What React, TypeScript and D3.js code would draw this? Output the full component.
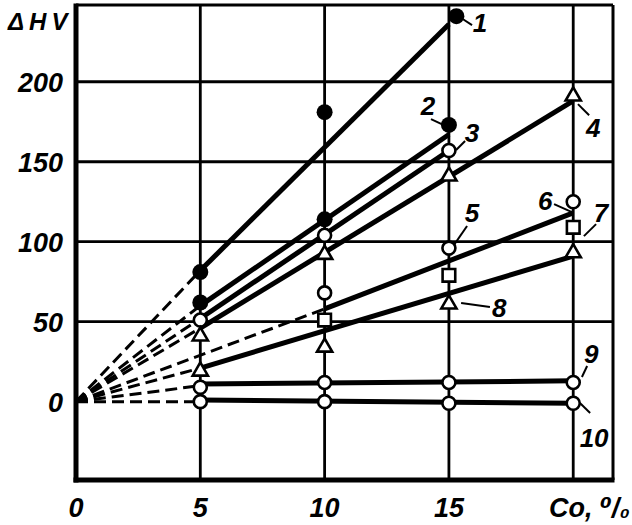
import React from 'react';
import * as d3 from 'd3';

// ---- data ----
const xTickValues = [0, 5, 10, 15];
const yTickValues = [0, 50, 100, 150, 200];
const gridX = [5, 10, 15, 20];
const gridY = [50, 100, 150, 200];

const seriesIds = ['1', '2', '3', '4', '5', '7', '8', '9', '10'];
const markerKinds = ['filled', 'filled', 'circle', 'triangle', 'circle', 'square', 'triangle', 'circle', 'circle'];
const seriesX = [
  [5, 10, 15.3],
  [5, 10, 15],
  [5, 10, 15],
  [5, 10, 15, 20],
  [10, 15, 20],
  [10, 15, 20],
  [5, 10, 15, 20],
  [5, 10, 15, 20],
  [5, 10, 15, 20],
];
const seriesY = [
  [81, 181, 241],
  [62, 114, 173],
  [51, 104, 157],
  [41, 92, 141, 191],
  [68, 96, 125],
  [51, 79, 109],
  [19, 34, 61, 93],
  [9, 12, 12, 12],
  [0, 0, -1, -1],
];

// fitted lines: dashed from origin to (x0,y0), solid from (x0,y0) to (x1,y1)
const fitX0 = [5, 5, 5, 5, 10, 5, 5, 5];
const fitY0 = [82, 60, 52, 46, 58, 21, 11, 1];
const fitX1 = [15, 15, 15, 20, 20, 20, 20, 20];
const fitY1 = [236, 167, 157, 188, 118, 91, 13, -1];
const fitDashY = [82, 60, 52, 46, 58, 21, 10, 0];

// curve number labels (data units)
const labelText = ['1', '2', '3', '4', '5', '6', '7', '8', '9', '10'];
const labelX = [16.25, 14.16, 15.93, 20.8, 15.93, 18.87, 21.12, 17.02, 20.72, 20.84];
const labelY = [231, 179.1, 162.3, 165.4, 112.3, 119.8, 112.3, 52.9, 24.1, -28.5];
const leaderX1 = [15.57, 14.28, 15.65, 20.64, 15.73, 19.23, 20.92, 16.65, 20.56, 20.68];
const leaderY1 = [239.1, 176.6, 163, 179.1, 109.8, 123.5, 111, 59.1, 22.3, -7.1];
const leaderX2 = [15.93, 14.88, 15.29, 20.19, 15.2, 19.95, 20.43, 15.49, 20.35, 20.27];
const leaderY2 = [235.4, 172.3, 157.3, 186, 97.9, 118.5, 103.5, 61.6, 15.4, -0.9];

const FONT = "'Liberation Sans', Arial, 'DejaVu Sans', sans-serif";

export default function App() {
  const W = 632, H = 525;
  const x = d3.scaleLinear().domain([0, 21.6]).range([76, 613]);
  const y = d3.scaleLinear().domain([-49, 248]).range([480, 5]);
  const tri = d3.symbol().type(d3.symbolTriangle).size(100)();
  const sq = d3.symbol().type(d3.symbolSquare).size(160)();
  const [xd0, xd1] = x.domain();
  const [yd0, yd1] = y.domain();

  const textStyle: React.CSSProperties = {
    fontFamily: FONT,
    fontWeight: 'bold',
    fontStyle: 'italic',
  };

  return (
    <svg width={W} height={H} style={{ position: 'absolute', left: 0, top: 0, background: '#fff' }}>
      <rect x={0} y={0} width={W} height={H} fill="#fff" />
      {/* grid */}
      {gridX.map((v) => (
        <line key={'gx' + v} x1={x(v)} x2={x(v)} y1={y(yd0)} y2={y(yd1)} stroke="#000" strokeWidth={2.8} />
      ))}
      {gridY.map((v) => (
        <line key={'gy' + v} x1={x(xd0)} x2={x(xd1)} y1={y(v)} y2={y(v)} stroke="#000" strokeWidth={2.8} />
      ))}
      {/* frame */}
      <line x1={x(xd0)} x2={x(xd1)} y1={y(yd1)} y2={y(yd1)} stroke="#000" strokeWidth={3} />
      <line x1={x(xd1)} x2={x(xd1)} y1={y(yd1)} y2={y(yd0)} stroke="#000" strokeWidth={3} />
      <line x1={x(xd0)} x2={x(xd0)} y1={y(yd1) - 1.5} y2={y(yd0) + 2.5} stroke="#000" strokeWidth={5} />
      <line x1={x(xd0) - 2.5} x2={x(xd1) + 1.5} y1={y(yd0)} y2={y(yd0)} stroke="#000" strokeWidth={5} />

      {/* dashed lines from origin */}
      {fitX0.map((v, i) => (
        <line key={'d' + i} x1={x(0)} y1={y(0)} x2={x(v)} y2={y(fitDashY[i])}
          stroke="#000" strokeWidth={3} strokeDasharray="12,6" />
      ))}
      {/* solid fitted lines */}
      {fitX0.map((v, i) => (
        <line key={'s' + i} x1={x(v)} y1={y(fitY0[i])} x2={x(fitX1[i])} y2={y(fitY1[i])}
          stroke="#000" strokeWidth={5} />
      ))}

      {/* markers */}
      {seriesIds.map((id, si) =>
        seriesX[si].map((xv, j) => {
          const cx = x(xv), cy = y(seriesY[si][j]);
          const kind = markerKinds[si];
          if (kind === 'filled') return <circle key={id + j} cx={cx} cy={cy} r={8} fill="#000" />;
          if (kind === 'circle')
            return <circle key={id + j} cx={cx} cy={cy} r={6.5} fill="#fff" stroke="#000" strokeWidth={2.6} />;
          if (kind === 'triangle')
            return <path key={id + j} d={tri as string} transform={`translate(${cx},${cy})`} fill="#fff" stroke="#000" strokeWidth={2.6} />;
          return <path key={id + j} d={sq as string} transform={`translate(${cx},${cy})`} fill="#fff" stroke="#000" strokeWidth={2.6} />;
        })
      )}

      {/* leaders and labels */}
      {labelText.map((t, i) => (
        <g key={'l' + i}>
          <line x1={x(leaderX1[i])} y1={y(leaderY1[i])} x2={x(leaderX2[i])} y2={y(leaderY2[i])} stroke="#000" strokeWidth={2} />
          <text x={x(labelX[i])} y={y(labelY[i])} textAnchor="middle" fontSize={26} style={textStyle}>{t}</text>
        </g>
      ))}

      {/* y ticks */}
      {yTickValues.map((v) => (
        <text key={'yt' + v} x={63} y={y(v) + 10} textAnchor="end" fontSize={27} style={textStyle}>{v}</text>
      ))}
      {/* x ticks */}
      {xTickValues.map((v) => (
        <text key={'xt' + v} x={x(v)} y={517} textAnchor="middle" fontSize={27} style={textStyle}>{v}</text>
      ))}
      <text x={549} y={517} fontSize={27} style={textStyle}>Co, ⁰/₀</text>
      <text x={8} y={30} fontSize={24} style={{ ...textStyle, letterSpacing: '5px' }}>ΔHV</text>
    </svg>
  );
}
